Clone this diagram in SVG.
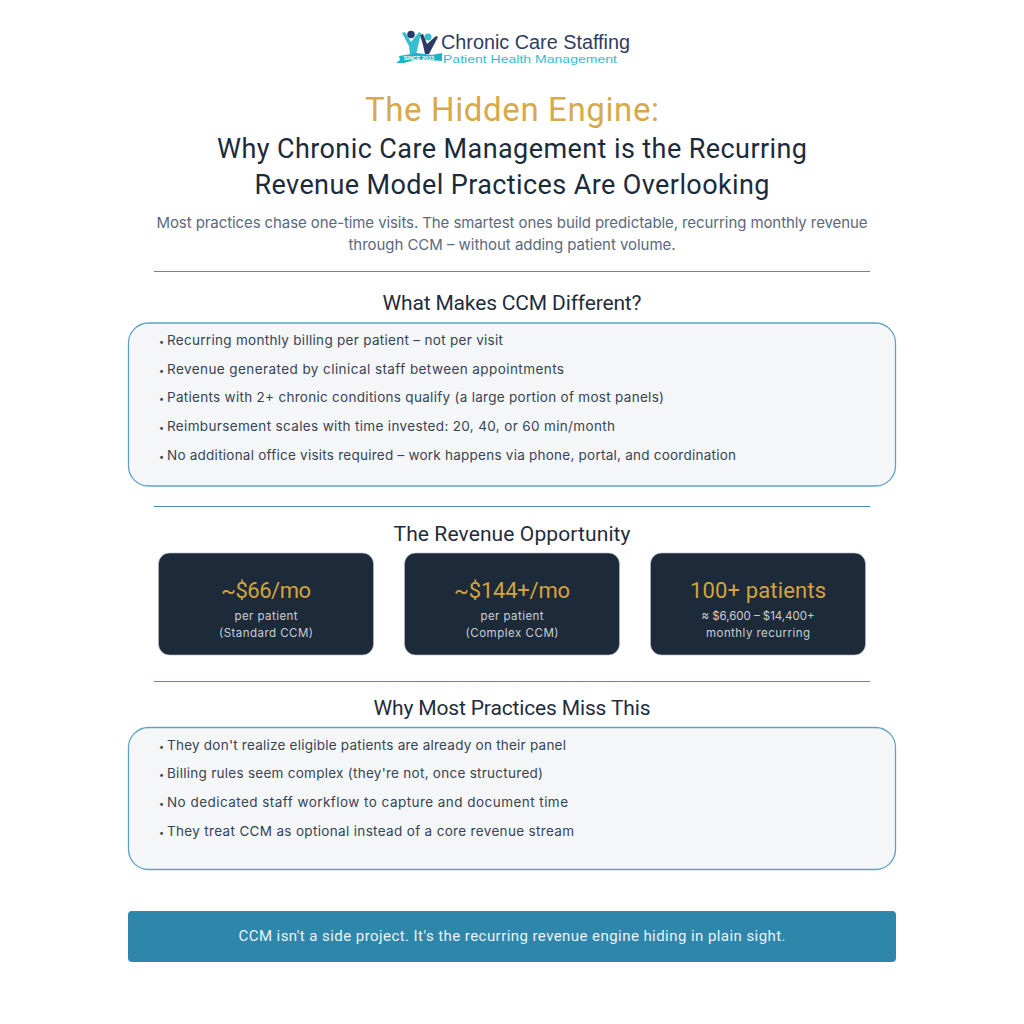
<svg xmlns="http://www.w3.org/2000/svg" width="1024" height="1024" viewBox="0 0 1024 1024">
<style>
text{font-family:"Roboto","Liberation Sans",sans-serif}
.h{font-size:21px;fill:#1f2d3d;text-anchor:middle}
.t{font-size:27px;fill:#1c2b3c;text-anchor:middle}
.sub{font-family:"Inter","Liberation Sans",sans-serif;font-size:15px;fill:#5a6980;text-anchor:middle}
.b{font-family:"Inter","Liberation Sans",sans-serif;font-size:13.5px;fill:#364456}
.dot{font-size:9px}
.rule{stroke:#3f94b8;stroke-width:1.2}
.panel{fill:#f4f6f8;stroke:#5fa3c4;stroke-width:1.3}
.card{fill:#1c2a3a;stroke:#b8bec6;stroke-width:.6}
.big{font-size:22px;fill:#d4a43c;text-anchor:middle}
.small{font-family:"Inter","Liberation Sans",sans-serif;font-size:11.5px;fill:#c9ced5;text-anchor:middle}
.lg{font-family:"Liberation Sans",Arial,sans-serif}
</style>
<rect width="1024" height="1024" fill="#fff"/>
<g id="logo">
<circle cx="411" cy="34.500" r="3.800" fill="#2b3a67"/>
<circle cx="428" cy="37" r="3.600" fill="#35bfd0"/>
<path d="M402 33L405 32L411 42L419 32L421 33L416 55H410L409 46Z" fill="#35bfd0"/>
<path d="M420 35L423 34L427 44L436 36L438 37L429 54H425L423 45Z" fill="#2b3a67"/>
<path d="M396 63L400 60L399 56L417 53L432 55L442 53V61L428 60L414 60L404 63Z" fill="#1fb3c8"/>
<text class="lg" x="419" y="60" font-size="5.500" font-weight="700" fill="#fff" text-anchor="middle">SINCE 2015</text>
<text class="lg" x="441" y="48.500" font-size="19.500" fill="#2f3d66" textLength="189" lengthAdjust="spacingAndGlyphs">Chronic Care Staffing</text>
<text class="lg" x="443" y="62.800" font-size="11.500" fill="#35bfd0" textLength="174" lengthAdjust="spacingAndGlyphs">Patient Health Management</text>
</g>
<g id="title">
<text x="512" y="121" font-size="33" fill="#d8a94a" text-anchor="middle" textLength="294">The Hidden Engine:</text>
<text class="t" x="512" y="157.500" textLength="590">Why Chronic Care Management is the Recurring</text>
<text class="t" x="512" y="194" textLength="515">Revenue Model Practices Are Overlooking</text>
<text class="sub" x="512" y="228" textLength="711">Most practices chase one-time visits. The smartest ones build predictable, recurring monthly revenue</text>
<text class="sub" x="512" y="250" textLength="327">through CCM – without adding patient volume.</text>
</g>
<g id="rules">
<line class="rule" x1="154" x2="870" y1="271.500" y2="271.500"/>
<line class="rule" x1="154" x2="870" y1="506.500" y2="506.500"/>
<line class="rule" x1="154" x2="870" y1="681.500" y2="681.500"/>
</g>
<g id="different">
<text class="h" x="512" y="310" textLength="259">What Makes CCM Different?</text>
<rect class="panel" x="128.500" y="323" width="767" height="163" rx="20"/>
<text class="b" x="159" y="345"><tspan class="dot">•</tspan><tspan x="167" textLength="336">Recurring monthly billing per patient – not per visit</tspan></text>
<text class="b" x="159" y="374"><tspan class="dot">•</tspan><tspan x="167" textLength="397">Revenue generated by clinical staff between appointments</tspan></text>
<text class="b" x="159" y="402"><tspan class="dot">•</tspan><tspan x="167" textLength="497">Patients with 2+ chronic conditions qualify (a large portion of most panels)</tspan></text>
<text class="b" x="159" y="431"><tspan class="dot">•</tspan><tspan x="167" textLength="448">Reimbursement scales with time invested: 20, 40, or 60 min/month</tspan></text>
<text class="b" x="159" y="460"><tspan class="dot">•</tspan><tspan x="167" textLength="569">No additional office visits required – work happens via phone, portal, and coordination</tspan></text>
</g>
<g id="revenue">
<text class="h" x="512" y="541" textLength="237">The Revenue Opportunity</text>
<g id="card1"><rect class="card" x="158.500" y="553" width="215" height="102" rx="11"/>
<text class="big" x="266" y="598" textLength="90">~$66/mo</text>
<text class="small" x="266" y="620" textLength="63">per patient</text>
<text class="small" x="266" y="637" textLength="94">(Standard CCM)</text></g>
<g id="card2"><rect class="card" x="404.500" y="553" width="215" height="102" rx="11"/>
<text class="big" x="512" y="598" textLength="116">~$144+/mo</text>
<text class="small" x="512" y="620" textLength="63">per patient</text>
<text class="small" x="512" y="637" textLength="93">(Complex CCM)</text></g>
<g id="card3"><rect class="card" x="650.500" y="553" width="215" height="102" rx="11"/>
<text class="big" x="758" y="598" textLength="136">100+ patients</text>
<text class="small" x="758" y="620" textLength="113">≈ $6,600 – $14,400+</text>
<text class="small" x="758" y="637" textLength="104">monthly recurring</text></g>
</g>
<g id="miss">
<text class="h" x="512" y="715" textLength="277">Why Most Practices Miss This</text>
<rect class="panel" x="128.500" y="727.500" width="767" height="142" rx="20"/>
<text class="b" x="159" y="750"><tspan class="dot">•</tspan><tspan x="167" textLength="399">They don't realize eligible patients are already on their panel</tspan></text>
<text class="b" x="159" y="778"><tspan class="dot">•</tspan><tspan x="167" textLength="376">Billing rules seem complex (they're not, once structured)</tspan></text>
<text class="b" x="159" y="807"><tspan class="dot">•</tspan><tspan x="167" textLength="401">No dedicated staff workflow to capture and document time</tspan></text>
<text class="b" x="159" y="836"><tspan class="dot">•</tspan><tspan x="167" textLength="407">They treat CCM as optional instead of a core revenue stream</tspan></text>
</g>
<g id="banner">
<rect x="128" y="911" width="768" height="51" rx="4" fill="#2e86ab"/>
<text x="512" y="941" font-size="15" fill="#eaf4f8" text-anchor="middle" textLength="547">CCM isn't a side project. It's the recurring revenue engine hiding in plain sight.</text>
</g>
</svg>
